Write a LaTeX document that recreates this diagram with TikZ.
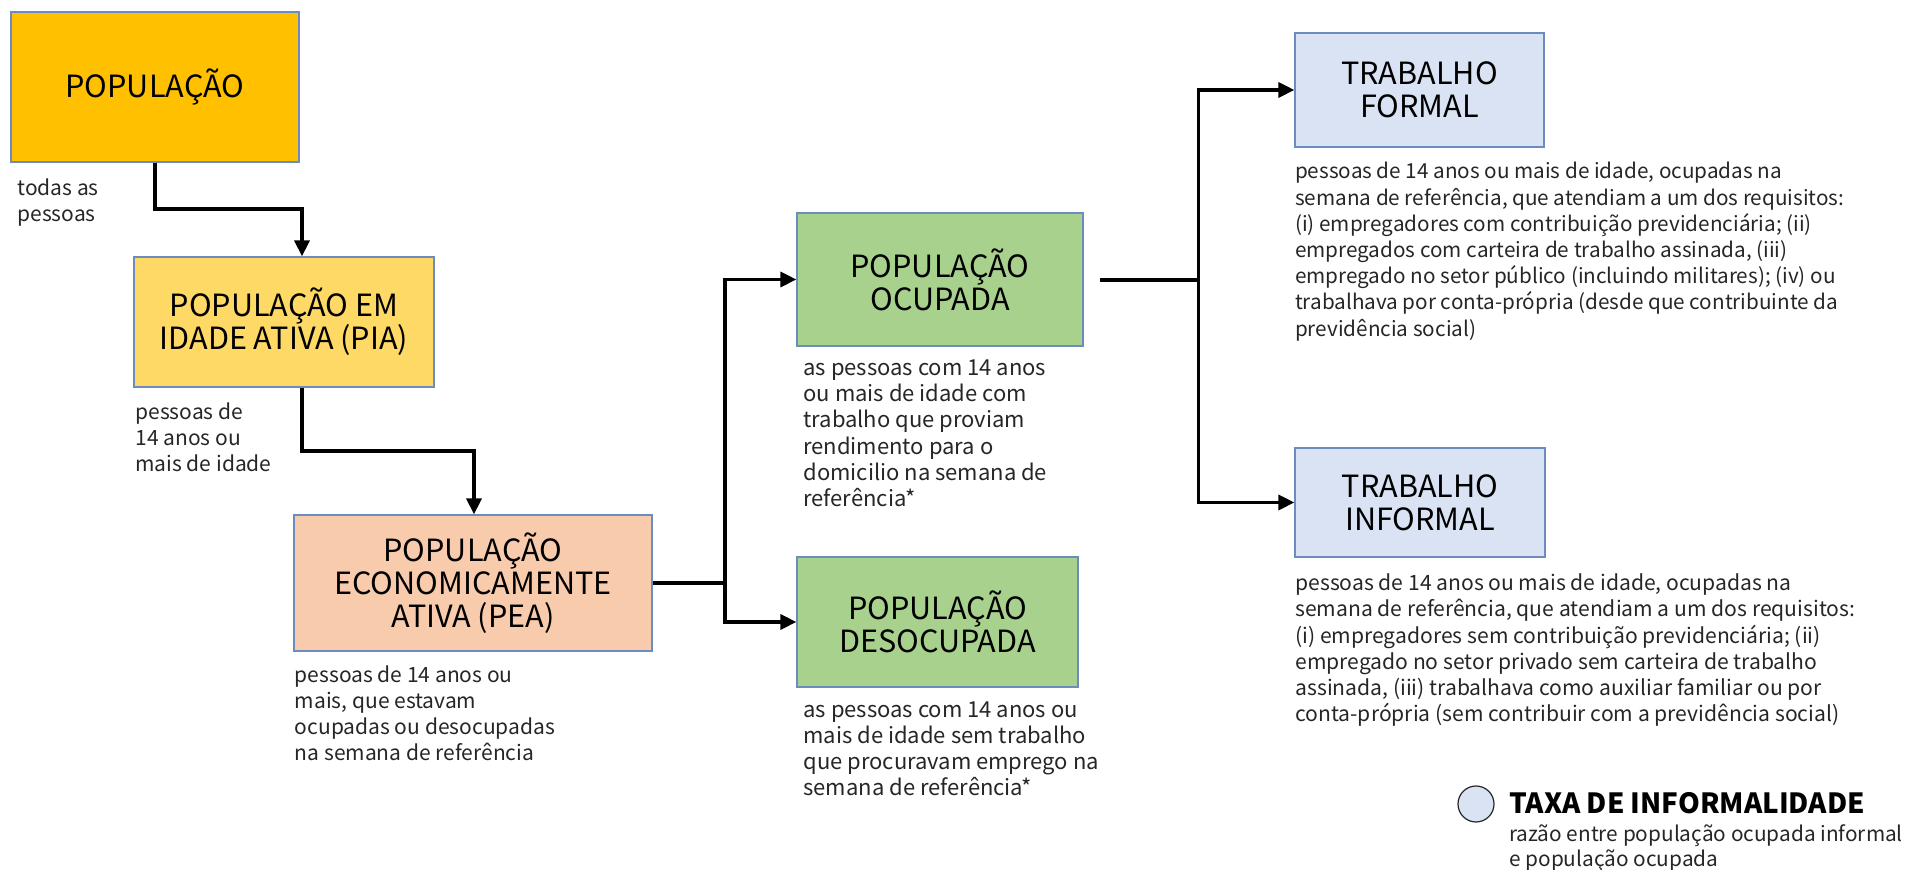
\documentclass[tikz,border=0pt]{standalone}
\usepackage{fontspec}
\setmainfont{Noto Sans CJK JP}
\usetikzlibrary{arrows.meta}

\definecolor{popcol}{HTML}{FFC000}
\definecolor{piacol}{HTML}{FFD966}
\definecolor{peacol}{HTML}{F8CBAD}
\definecolor{ocucol}{HTML}{A9D18E}
\definecolor{trabcol}{HTML}{DAE3F3}
\definecolor{edgecol}{HTML}{6C8BBF}
\definecolor{txtcol}{HTML}{262626}

\begin{document}
\begin{tikzpicture}[x=0.5pt,y=-0.5pt]
\tikzstyle{box} = [draw=edgecol, line width=0.6pt, inner sep=0pt, align=center, text=black, font=\fontsize{15.3}{16.4}\selectfont]
\tikzstyle{desc} = [anchor=north west, inner sep=0pt, align=left, text=txtcol, font=\fontsize{10.5}{13.1}\selectfont]
\tikzstyle{conn} = [line width=1.6pt, -{Triangle[length=8pt,width=7.5pt]}]

\useasboundingbox (0,0) rectangle (1908,870);

% caixas
\node[box, fill=popcol, minimum width=144pt, minimum height=75pt] (pop) at (155,87) {POPULAÇÃO};

\node[box, fill=piacol, minimum width=150pt, minimum height=65pt] (pia) at (284,322) {POPULAÇÃO EM\\IDADE ATIVA (PIA)};

\node[box, fill=peacol, minimum width=179pt, minimum height=68pt] (pea) at (473,583) {POPULAÇÃO\\ECONOMICAMENTE\\ATIVA (PEA)};

\node[box, fill=ocucol, minimum width=143pt, minimum height=66.5pt] (ocup) at (940,279.5) {POPULAÇÃO\\OCUPADA};

\node[box, fill=ocucol, minimum width=140.5pt, minimum height=65pt] (desoc) at (937.5,622) {POPULAÇÃO\\DESOCUPADA};

\node[box, fill=trabcol, minimum width=124.5pt, minimum height=57pt] (formal) at (1419.5,90) {TRABALHO\\FORMAL};

\node[box, fill=trabcol, minimum width=125pt, minimum height=54.5pt] (informal) at (1420,502.5) {TRABALHO\\INFORMAL};

% textos
\node[desc] (popdesc) at (17,178) {todas as\\pessoas};

\node[desc] (piadesc) at (135,402) {pessoas de\\14 anos ou\\mais de idade};

\node[desc] (peadesc) at (294.5,665) {pessoas de 14 anos ou\\mais, que estavam\\ocupadas ou desocupadas\\na semana de referência};

\node[desc, font=\fontsize{11}{13.1}\selectfont] (ocupdesc) at (803,359.5) {as pessoas com 14 anos\\ou mais de idade com\\trabalho que proviam\\rendimento para o\\domicilio na semana de\\referência*};

\node[desc, font=\fontsize{11}{13.1}\selectfont] (desocdesc) at (803,701) {as pessoas com 14 anos ou\\mais de idade sem trabalho\\que procuravam emprego na\\semana de referência*};

\node[desc, font=\fontsize{10.35}{13.1}\selectfont] (formaldesc) at (1294.7,162) {pessoas de 14 anos ou mais de idade, ocupadas na\\semana de referência, que atendiam a um dos requisitos:\\(i) empregadores com contribuição previdenciária; (ii)\\empregados com carteira de trabalho assinada, (iii)\\empregado no setor público (incluindo militares); (iv) ou\\trabalhava por conta-própria (desde que contribuinte da\\previdência social)};

\node[desc, font=\fontsize{10.55}{13.1}\selectfont] (informaldesc) at (1295,573.6) {pessoas de 14 anos ou mais de idade, ocupadas na\\semana de referência, que atendiam a um dos requisitos:\\(i) empregadores sem contribuição previdenciária; (ii)\\empregado no setor privado sem carteira de trabalho\\assinada, (iii) trabalhava como auxiliar familiar ou por\\conta-própria (sem contribuir com a previdência social)};

% legenda
\node[shape=circle, draw=txtcol, line width=0.6pt, fill=trabcol, minimum size=18pt, inner sep=0pt] (taxa) at (1476,804) {};

\node[anchor=west, inner sep=0pt, font=\fontsize{13.9}{16}\selectfont\bfseries] (taxatit) at (1509,803) {TAXA DE INFORMALIDADE};

\node[desc, font=\fontsize{10.4}{12.8}\selectfont] (taxadesc) at (1509,824) {razão entre população ocupada informal\\e população ocupada};

% ligacoes
\coordinate (j1) at (302,209);
\coordinate (j2) at (474,451);
\coordinate (j3) at (725,583);
\coordinate (s4) at (1100,280);
\coordinate (j4) at (1198.5,280);

\draw[conn] (pop.south) |- (j1) -- (j1 |- pia.north);
\draw[conn] (j1 |- pia.south) |- (j2) -- (j2 |- pea.north);
\draw[line width=1.6pt] (pea.east) -- (j3);
\draw[conn] (j3) |- (ocup.west);
\draw[conn] (j3) |- (desoc.west);
\draw[line width=1.6pt] (s4) -- (j4);
\draw[conn] (j4) |- (formal.west);
\draw[conn] (j4) |- (informal.west);

\end{tikzpicture}
\end{document}
